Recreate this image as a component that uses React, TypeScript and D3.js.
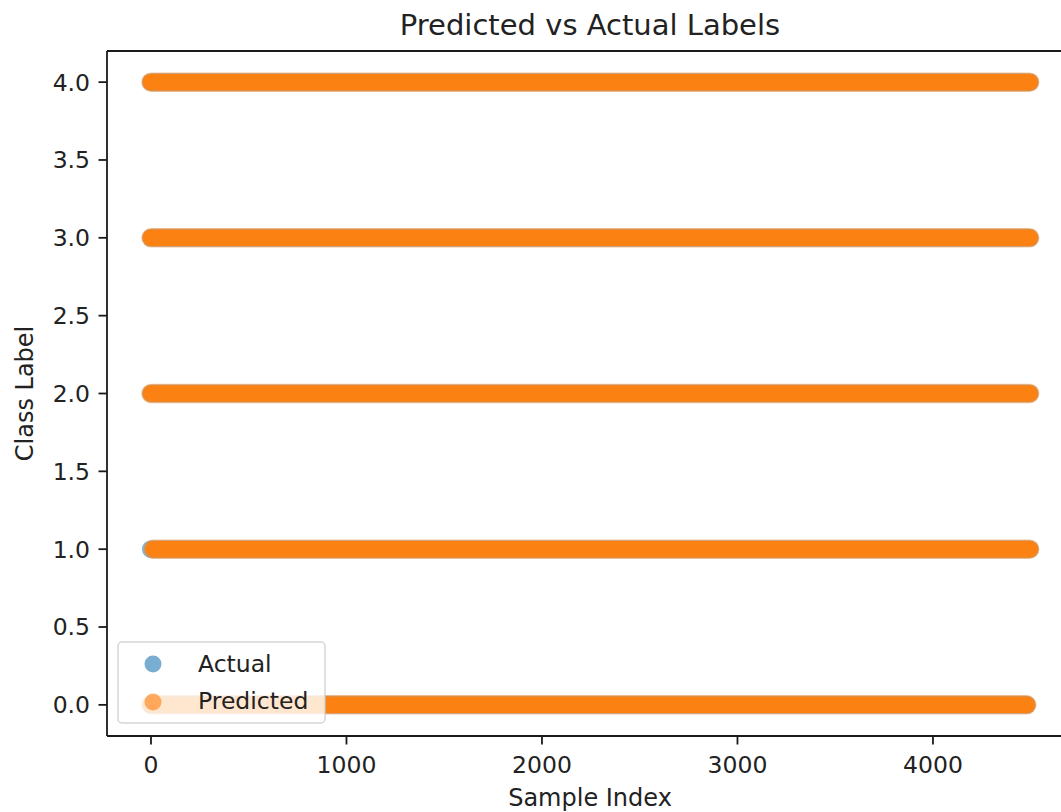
import React from "react";
import * as d3 from "d3";

// ---- data ----
const classLabels = [0, 1, 2, 3, 4];
// sample-index span covered by each class row, per series
const actualStart = [0, 0, 0, 0, 0];
const actualEnd = [4480, 4495, 4495, 4495, 4495];
const predictedStart = [0, 12, 0, 0, 0];
const predictedEnd = [4480, 4495, 4495, 4495, 4495];
const xTicks = [0, 1000, 2000, 3000, 4000];
const yTicks = [0, 0.5, 1, 1.5, 2, 2.5, 3, 3.5, 4];
const seriesNames = ["Actual", "Predicted"];
const seriesColors = ["#1f77b4", "#ff7f0e"];

const W = 1061;
const H = 812;
const FONT = "'DejaVu Sans', sans-serif";

export default function App() {
  const x = d3.scaleLinear().domain([-225, 4724]).range([107, 1074.5]);
  const y = d3.scaleLinear().domain([-0.2, 4.2]).range([736, 51]);
  const line = d3
    .line<[number, number]>()
    .x((d) => x(d[0]))
    .y((d) => y(d[1]));

  const left = x.range()[0];
  const right = x.range()[1];
  const top = y.range()[1];
  const bottom = y.range()[0];

  const rows = classLabels.map((c, i) => ({
    c,
    actual: [
      [actualStart[i], c],
      [actualEnd[i], c],
    ] as [number, number][],
    predicted: [
      [predictedStart[i], c],
      [predictedEnd[i], c],
    ] as [number, number][],
  }));

  return (
    <svg
      width={W}
      height={H}
      style={{ position: "absolute", left: 0, top: 0, background: "#fff" }}
      fontFamily={FONT}
    >
      <rect x={0} y={0} width={W} height={H} fill="#fff" />
      {/* scatter rows */}
      <g>
        {rows.map((r) => (
          <g key={"a" + r.c}>
            <path d={line(r.actual) || ""} stroke={seriesColors[0]} strokeOpacity={0.55} strokeWidth={18} strokeLinecap="round" fill="none" />
          </g>
        ))}
        {rows.map((r) => (
          <g key={"p" + r.c}>
            <path d={line(r.predicted) || ""} stroke={seriesColors[1]} strokeOpacity={0.45} strokeWidth={19.5} strokeLinecap="round" fill="none" />
            <path d={line(r.predicted) || ""} stroke={seriesColors[1]} strokeOpacity={0.95} strokeWidth={16.5} strokeLinecap="round" fill="none" />
          </g>
        ))}
      </g>

      {/* spines */}
      <g stroke="#1a1a1a" strokeWidth={1.8} fill="none">
        <line x1={left} x2={left} y1={top} y2={bottom} />
        <line x1={right} x2={right} y1={top} y2={bottom} />
        <line x1={left} x2={right} y1={top} y2={top} />
        <line x1={left} x2={right} y1={bottom} y2={bottom} />
      </g>

      {/* x ticks */}
      <g>
        {xTicks.map((t) => (
          <g key={t}>
            <line x1={x(t)} x2={x(t)} y1={bottom} y2={bottom + 8.5} stroke="#1a1a1a" strokeWidth={1.8} />
            <text x={x(t)} y={773} textAnchor="middle" fontSize={23.5} fill="#222">
              {d3.format("d")(t)}
            </text>
          </g>
        ))}
      </g>

      {/* y ticks */}
      <g>
        {yTicks.map((t) => (
          <g key={t}>
            <line x1={left - 8.5} x2={left} y1={y(t)} y2={y(t)} stroke="#1a1a1a" strokeWidth={1.8} />
            <text x={90} y={y(t)} dy="0.36em" textAnchor="end" fontSize={23.5} fill="#222">
              {d3.format(".1f")(t)}
            </text>
          </g>
        ))}
      </g>

      {/* labels */}
      <text x={590} y={35} textAnchor="middle" fontSize={29} fill="#222">
        Predicted vs Actual Labels
      </text>
      <text x={590} y={806} textAnchor="middle" fontSize={24} fill="#222">
        Sample Index
      </text>
      <text transform={`translate(33,${(top + bottom) / 2}) rotate(-90)`} textAnchor="middle" fontSize={24} fill="#222">
        Class Label
      </text>

      {/* legend */}
      <g>
        <rect x={118} y={642} width={207} height={81} rx={4} fill="#fff" fillOpacity={0.8} stroke="#cccccc" strokeOpacity={0.8} strokeWidth={1.5} />
        {seriesNames.map((n, i) => (
          <g key={n}>
            <circle cx={153} cy={664 + i * 38} r={8.5} fill={seriesColors[i]} fillOpacity={0.6} />
            <text x={198} y={672 + i * 37} fontSize={23.5} fill="#222">
              {n}
            </text>
          </g>
        ))}
      </g>
    </svg>
  );
}
